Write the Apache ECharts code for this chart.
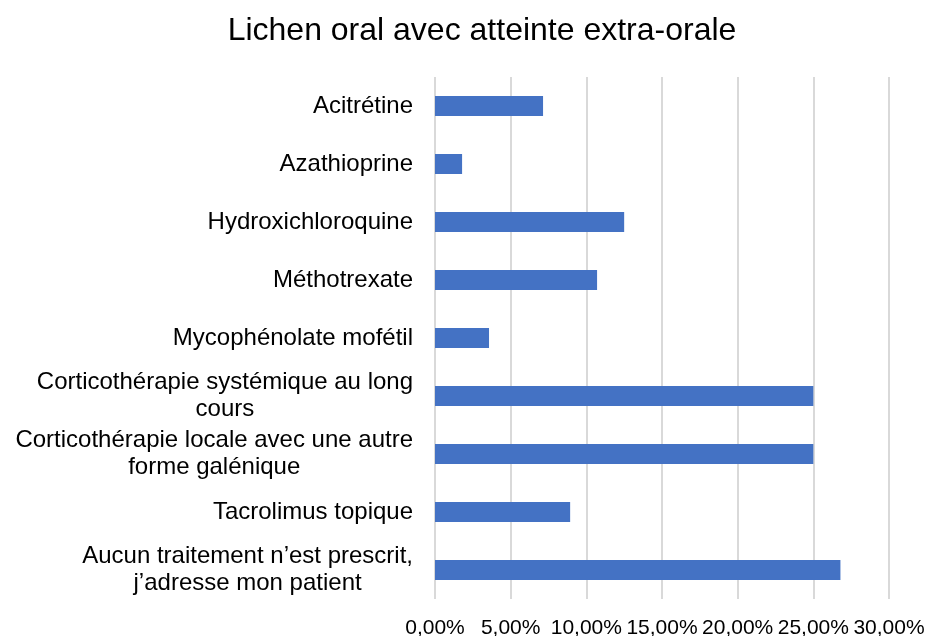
<!DOCTYPE html>
<html>
<head>
<meta charset="utf-8">
<script src="https://cdn.jsdelivr.net/npm/echarts@6/dist/echarts.min.js"></script>
<style>
  html, body { margin: 0; padding: 0; background: #fff; }
  #chart { width: 926px; height: 636px; }
</style>
</head>
<body>
<div id="chart"></div>
<script>
var categories = [
  "Acitrétine",
  "Azathioprine",
  "Hydroxichloroquine",
  "Méthotrexate",
  "Mycophénolate mofétil",
  "Corticothérapie systémique au long\ncours",
  "Corticothérapie locale avec une autre\nforme galénique",
  "Tacrolimus topique",
  "Aucun traitement n’est prescrit,\nj’adresse mon patient"
];
var values = [7.14, 1.79, 12.5, 10.71, 3.57, 25, 25, 8.93, 26.79];
var tickMax = 30;
var tickStep = 5;

var chart = echarts.init(document.getElementById("chart"));
var font = "'Liberation Sans', Arial, sans-serif";

var option = {
  backgroundColor: "#ffffff",
  animation: false,
  title: {
    text: "Lichen oral avec atteinte extra-orale",
    left: 477,
    top: 10,
    textAlign: "center",
    textStyle: {
      fontFamily: font,
      fontSize: 32,
      fontWeight: "normal",
      color: "#000"
    }
  },
  grid: {
    left: 435,
    right: 37,
    top: 77,
    bottom: 37,
    outerBoundsMode: "none"
  },
  xAxis: {
    type: "value",
    min: 0,
    max: tickMax,
    interval: tickStep,
    axisLine: { show: false },
    axisTick: { show: false },
    splitLine: {
      show: true,
      lineStyle: { color: "#d9d9d9", width: 2 }
    },
    axisLabel: {
      margin: 19,
      fontFamily: font,
      fontSize: 21,
      color: "#000",
      formatter: function (v) {
        return v.toFixed(2).replace(".", ",") + "%";
      }
    }
  },
  yAxis: {
    type: "category",
    inverse: true,
    data: categories,
    axisLine: { show: false },
    axisTick: { show: false },
    axisLabel: {
      margin: 22,
      align: "right",
      formatter: function (v) {
        return "{c|" + v + "}";
      },
      rich: {
        c: {
          align: "center",
          fontFamily: font,
          fontSize: 24,
          lineHeight: 27,
          color: "#000"
        }
      }
    }
  },
  series: [
    {
      type: "bar",
      data: values,
      barWidth: 20,
      itemStyle: { color: "#4472C4" }
    }
  ]
};
chart.setOption(option);
</script>
</body>
</html>
